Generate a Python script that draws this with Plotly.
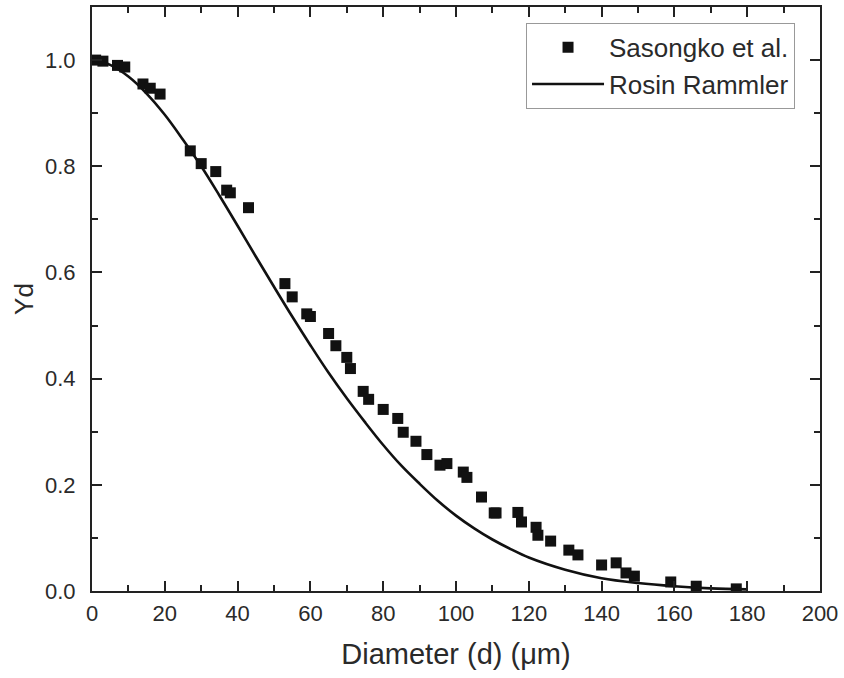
import plotly.graph_objects as go

exp_d = [1, 3, 7, 9, 14, 16, 18.7, 27, 30, 34, 37, 38, 43, 53, 55, 59, 60, 65, 67, 70, 71,
         74.5, 76, 80, 84, 85.5, 89, 92, 95.6, 97.5, 102, 103, 107, 110.5, 111, 117, 118,
         122, 122.5, 126, 131, 133.5, 140, 144, 146.7, 149, 159, 166, 177]
exp_y = [1.0, 0.998, 0.99, 0.987, 0.955, 0.947, 0.936, 0.829, 0.805, 0.79, 0.755, 0.75,
         0.722, 0.579, 0.554, 0.522, 0.517, 0.485, 0.462, 0.44, 0.419, 0.376, 0.361, 0.342,
         0.325, 0.299, 0.282, 0.257, 0.237, 0.24, 0.224, 0.214, 0.177, 0.147, 0.147, 0.148,
         0.13, 0.12, 0.105, 0.094, 0.077, 0.068, 0.049, 0.053, 0.034, 0.028, 0.017, 0.009,
         0.004]

# Rosin Rammler curve
rr_d = [0, 5, 10, 15, 20, 25, 30, 35, 40, 45, 50, 55, 60, 65, 70, 75, 80, 85, 90, 95,
        100, 105, 110, 115, 120, 130, 140, 150, 160, 170, 180]
rr_y = [1.0, 0.991, 0.969, 0.937, 0.897, 0.850, 0.800, 0.745, 0.688, 0.630, 0.573, 0.517,
        0.463, 0.411, 0.363, 0.318, 0.275, 0.236, 0.202, 0.170, 0.142, 0.118, 0.097,
        0.079, 0.063, 0.040, 0.024, 0.015, 0.009, 0.005, 0.003]

x_ticks = [0, 20, 40, 60, 80, 100, 120, 140, 160, 180, 200]
y_ticks = [0.0, 0.2, 0.4, 0.6, 0.8, 1.0]
y_tick_text = ["0.0", "0.2", "0.4", "0.6", "0.8", "1.0"]

FONT = "Liberation Sans, Arial, sans-serif"
INK = "#222222"
TXT = "#2a2a2a"

fig = go.Figure()
fig.add_trace(go.Scatter(
    x=exp_d, y=exp_y, mode="markers", name="Sasongko et al.",
    marker=dict(symbol="square", size=11, color="#111111", line=dict(width=0)),
))
fig.add_trace(go.Scatter(
    x=rr_d, y=rr_y, mode="lines", name="Rosin Rammler",
    line=dict(color="#111111", width=2.6, shape="spline", smoothing=1.0),
))

axis_common = dict(
    showline=True, linecolor=INK, linewidth=2, mirror="ticks",
    ticks="inside", ticklen=10, tickwidth=1.5, tickcolor=INK,
    showgrid=False, zeroline=False,
    tickfont=dict(family=FONT, size=22, color=TXT),
)

fig.update_xaxes(
    range=[0, 200], tickvals=x_ticks,
    minor=dict(ticks="inside", dtick=10, tick0=0, ticklen=6, tickwidth=1.5, tickcolor=INK),
    title=dict(text="Diameter (d) (μm)", font=dict(family=FONT, size=29, color=TXT),
               standoff=18),
    ticklabelstandoff=2,
    **axis_common,
)
fig.update_yaxes(
    range=[0, 1.1], tickvals=y_ticks, ticktext=y_tick_text,
    minor=dict(ticks="inside", tickvals=[0.1, 0.3, 0.5, 0.7, 0.9], ticklen=6,
               tickwidth=1.5, tickcolor=INK),
    title=dict(text="Yd", font=dict(family=FONT, size=26, color=TXT), standoff=4),
    ticklabelstandoff=10,
    **axis_common,
)

fig.update_layout(
    width=844, height=678,
    margin=dict(l=92, r=24, t=5, b=87),
    plot_bgcolor="white", paper_bgcolor="white",
    showlegend=True,
    legend=dict(
        x=0.9657, y=0.973, xanchor="right", yanchor="top",
        bgcolor="white", bordercolor="#999999", borderwidth=1,
        font=dict(family=FONT, size=26, color=TXT),
        itemwidth=72,
    ),
)

fig.write_html("out.html")
